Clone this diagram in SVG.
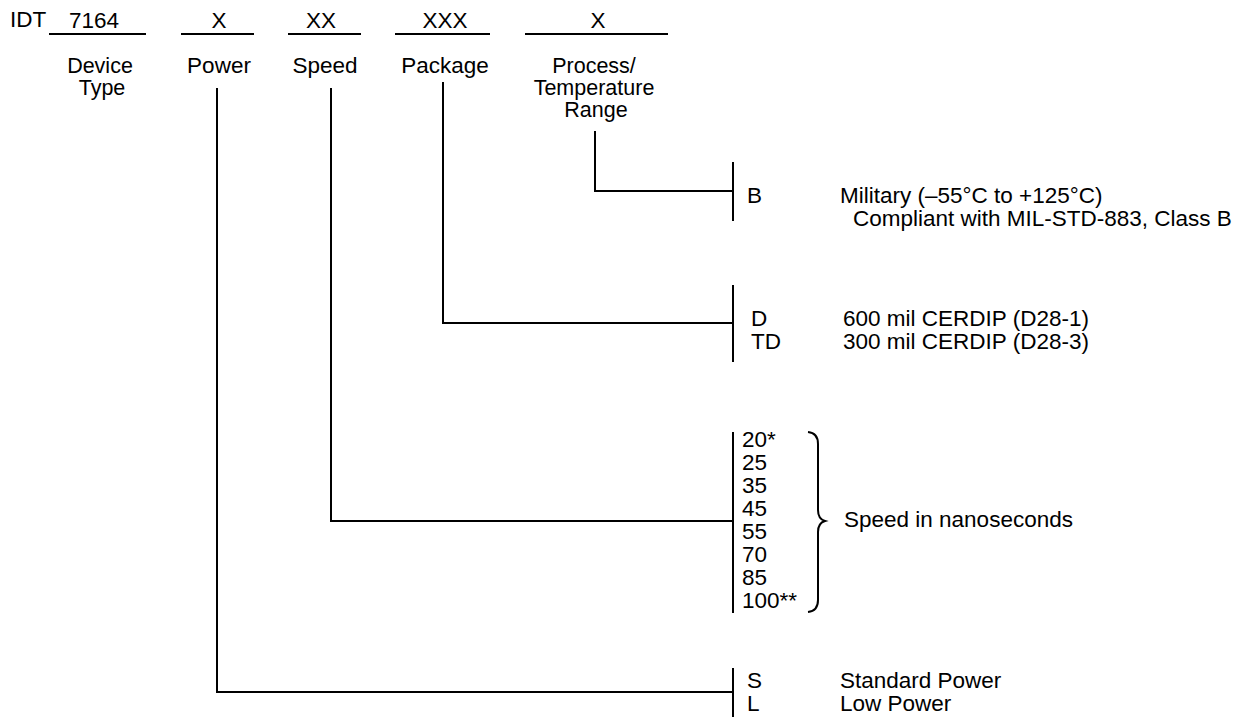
<svg xmlns="http://www.w3.org/2000/svg" width="1246" height="717" viewBox="0 0 1246 717">
<style>
text{font-family:"Liberation Sans",Arial,sans-serif;font-size:22.5px;fill:#000}
.c{text-anchor:middle}
.s{font-size:21.5px}
.ln{stroke:#000;stroke-width:2;fill:none}
</style>
<rect width="1246" height="717" fill="#fff"/>
<g id="header">
<text x="10" y="27">IDT</text>
<text class="c" x="94" y="28">7164</text>
<line class="ln" x1="49" y1="34" x2="146" y2="34"/>
<text class="c" x="219" y="28">X</text>
<line class="ln" x1="181" y1="34" x2="254" y2="34"/>
<text class="c" x="321" y="28">XX</text>
<line class="ln" x1="288" y1="34" x2="361" y2="34"/>
<text class="c" x="445" y="28">XXX</text>
<line class="ln" x1="395" y1="34" x2="490" y2="34"/>
<text class="c" x="598" y="28">X</text>
<line class="ln" x1="525" y1="34" x2="668" y2="34"/>
</g>
<g id="device-type"><text class="c s" x="100" y="73">Device</text><text class="c s" x="102" y="95">Type</text></g>
<g id="power-label"><text class="c" x="219" y="73">Power</text></g>
<g id="speed-label"><text class="c" x="325" y="73">Speed</text></g>
<g id="package-label"><text class="c" x="445" y="73">Package</text></g>
<g id="process-label"><text class="c s" x="594" y="73">Process/</text><text class="c s" x="594" y="95">Temperature</text><text class="c s" x="596" y="117">Range</text></g>
<g id="connectors">
<polyline class="ln" points="595,131 595,191 733,191"/>
<polyline class="ln" points="443,82 443,323 733,323"/>
<polyline class="ln" points="331,88 331,521 733,521"/>
<polyline class="ln" points="217,88 217,692 733,692"/>
</g>
<g id="process-options">
<line class="ln" x1="733" y1="162" x2="733" y2="221"/>
<text x="747" y="203">B</text>
<text x="840" y="203">Military (–55°C to +125°C)</text>
<text x="853" y="226">Compliant with MIL-STD-883, Class B</text>
</g>
<g id="package-options">
<line class="ln" x1="733" y1="285" x2="733" y2="362"/>
<text x="751" y="326">D</text>
<text x="843" y="326">600 mil CERDIP (D28-1)</text>
<text x="751" y="349">TD</text>
<text x="843" y="349">300 mil CERDIP (D28-3)</text>
</g>
<g id="speed-options">
<line class="ln" x1="733" y1="432" x2="733" y2="613"/>
<text x="742" y="447">20*</text>
<text x="742" y="470">25</text>
<text x="742" y="493">35</text>
<text x="742" y="516">45</text>
<text x="742" y="539">55</text>
<text x="742" y="562">70</text>
<text x="742" y="585">85</text>
<text x="742" y="608">100**</text>
<path class="ln" d="M808,432 Q818,433 818,444 L818,510 Q818,519 825,521 Q818,523 818,532 L818,600 Q818,611 808,612"/>
<text x="844" y="527">Speed in nanoseconds</text>
</g>
<g id="power-options">
<line class="ln" x1="733" y1="668" x2="733" y2="717"/>
<text x="747" y="688">S</text>
<text x="840" y="688">Standard Power</text>
<text x="747" y="711">L</text>
<text x="840" y="711">Low Power</text>
</g>
</svg>
